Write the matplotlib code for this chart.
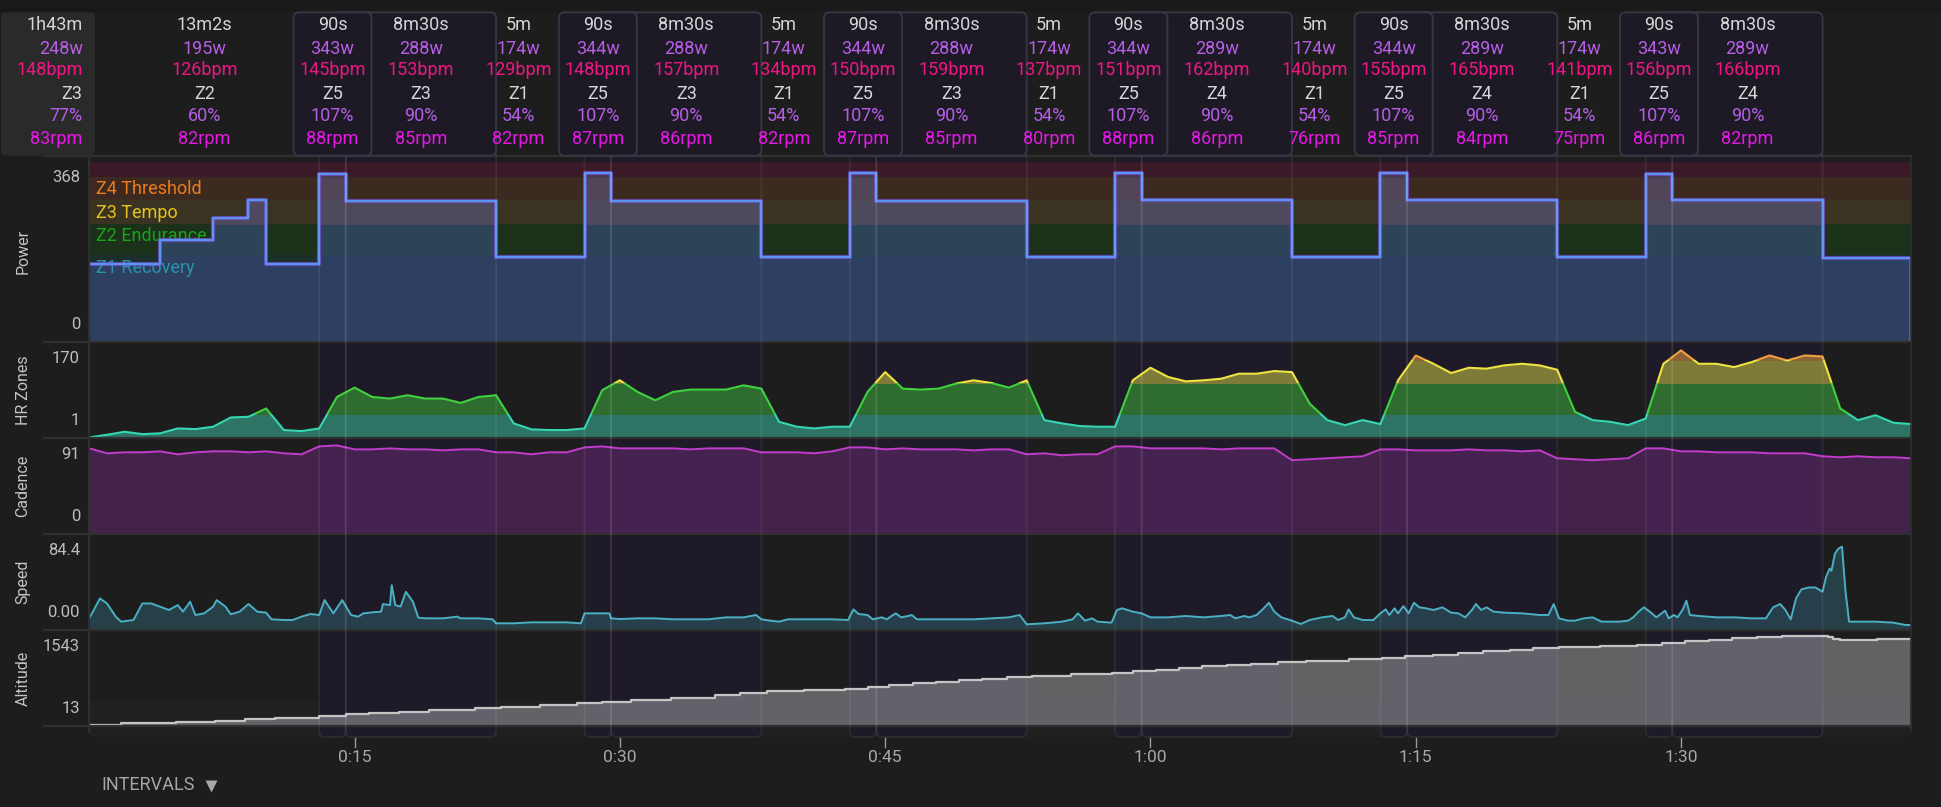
import numpy as np
import matplotlib
matplotlib.use("Agg")
import matplotlib.pyplot as plt
from matplotlib.patches import FancyBboxPatch, Rectangle

plt.rcParams['font.family'] = ['Roboto', 'DejaVu Sans']

W, H = 1941, 807

# ================= data =================
summary = ["1h43m", "248w", "148bpm", "Z3", "77%", "83rpm"]

iv_start = [0, 13, 14.5, 23, 28, 29.5, 38, 43, 44.5, 53, 58, 59.5, 68, 73, 74.5, 83, 88, 89.5]
iv_end = [13, 14.5, 23, 28, 29.5, 38, 43, 44.5, 53, 58, 59.5, 68, 73, 74.5, 83, 88, 89.5, 98]
iv_dur = ["13m2s", "90s", "8m30s", "5m", "90s", "8m30s", "5m", "90s", "8m30s", "5m",
          "90s", "8m30s", "5m", "90s", "8m30s", "5m", "90s", "8m30s"]
iv_watts = [195, 343, 288, 174, 344, 288, 174, 344, 288, 174, 344, 289, 174, 344, 289, 174, 343, 289]
iv_bpm = [126, 145, 153, 129, 148, 157, 134, 150, 159, 137, 151, 162, 140, 155, 165, 141, 156, 166]
iv_zone = ["Z2", "Z5", "Z3", "Z1", "Z5", "Z3", "Z1", "Z5", "Z3", "Z1",
           "Z5", "Z4", "Z1", "Z5", "Z4", "Z1", "Z5", "Z4"]
iv_pct = [60, 107, 90, 54, 107, 90, 54, 107, 90, 54, 107, 90, 54, 107, 90, 54, 107, 90]
iv_rpm = [82, 88, 85, 82, 87, 86, 82, 87, 85, 80, 88, 86, 76, 85, 84, 75, 86, 82]

# power (w), step values starting at each time (minutes)
power_t = [0, 4, 7, 9, 10, 13, 14.5, 23, 28, 29.5, 38, 43, 44.5, 53, 58, 59.5, 68, 73, 74.5,
           83, 88, 89.5, 98, 103]
power_w = [159, 208, 253, 290, 159, 343, 288, 174, 344, 288, 174, 344, 288, 174, 344, 289, 174,
           344, 289, 174, 343, 289, 172, 0]
power_zone_edges = [0, 176.6, 240.8, 289, 337, 368]
power_zone_names = ["Z1 Recovery", "Z2 Endurance", "Z3 Tempo", "Z4 Threshold"]

# heart rate, one sample per minute
hr_t = list(range(104))
hr_bpm = [100.2, 102.2, 104.5, 102.7, 103.3, 107.0, 106.5, 108.3, 115.3, 115.8,
          122.1, 105.8, 105.0, 107.0, 130.8, 137.9, 130.8, 129.6, 132.1, 129.6,
          129.6, 126.3, 130.8, 132.1, 110.8, 106.3, 105.8, 105.8, 107.0, 135.9,
          143.4, 134.6, 128.3, 134.6, 136.4, 136.4, 136.4, 139.6, 137.1, 112.0,
          108.3, 107.0, 108.3, 108.3, 134.6, 149.6, 137.1, 136.4, 137.1, 140.9,
          143.4, 141.4, 137.9, 143.4, 113.3, 110.8, 108.8, 108.3, 108.3, 143.4,
          152.9, 145.9, 142.6, 143.4, 144.6, 148.4, 148.4, 150.4, 149.6, 125.8,
          113.3, 109.5, 113.3, 110.3, 143.4, 162.2, 155.9, 148.9, 152.9, 152.2,
          154.7, 155.9, 154.7, 151.4, 119.6, 113.3, 112.0, 109.5, 114.5, 155.9,
          166.0, 155.9, 155.9, 153.4, 157.2, 162.2, 158.4, 162.2, 161.4, 122.1,
          113.3, 117.0, 111.3, 110.3]
hr_zone_edges = [100, 117.8, 141.4, 158.4, 172]

# cadence (rpm), one sample per minute
cad_t = list(range(104))
cad_rpm = [86, 81, 82, 82, 83, 80, 82, 83, 83, 82, 83, 81, 80,
           88, 89,
           85, 85, 86, 85, 85, 84, 85, 85,
           82, 82, 80, 82, 82,
           87, 88,
           86, 86, 86, 86, 85, 86, 86, 86,
           82, 82, 82, 81, 83,
           87, 87,
           85, 86, 85, 85, 85, 84, 85, 85,
           80, 81, 79, 80, 80,
           88, 88,
           86, 86, 86, 86, 85, 86, 86, 86,
           74, 75, 76, 77, 78,
           85, 85,
           84, 84, 84, 85, 84, 84, 83, 84,
           76, 75, 74, 75, 76,
           86, 86,
           83, 83, 82, 82, 82, 81, 81, 81,
           78, 77, 78, 77, 77, 76]

# speed (km/h)
speed_t = [0, 0.6, 1.0, 1.5, 1.8, 2.5, 3.0, 3.5, 4.0, 4.5, 5.0, 5.3, 5.7, 6.0, 6.5, 7.0, 7.2,
           7.7, 8.0, 8.5, 9.0, 9.5, 10.0, 10.3, 11.0, 11.5, 12.0, 12.5, 13.0, 13.3, 13.8, 14.3,
           14.8, 15.2, 15.5, 16.0, 16.5, 16.6, 17.0, 17.1, 17.3, 17.6, 17.9, 18.3, 18.6, 19.0,
           20.0, 20.8, 21.0, 22.0, 22.8, 23.0, 24.0, 25.0, 26.0, 27.0, 27.8, 28.0, 29.4, 29.5,
           30.0, 31.0, 32.0, 33.0, 34.0, 35.0, 36.0, 37.0, 37.7, 38.0, 38.5, 39.0, 39.5, 40.0,
           41.0, 42.0, 42.9, 43.2, 43.5, 44.0, 44.3, 44.8, 45.1, 45.3, 45.6, 45.9, 46.3, 46.5,
           46.8, 48.0, 49.0, 50.0, 51.0, 52.0, 52.6, 53.0, 54.0, 55.0, 55.6, 55.9, 56.3, 56.7,
           57.0, 57.8, 58.1, 58.4, 59.0, 59.5, 60.0, 61.0, 62.0, 63.0, 64.0, 64.5, 64.8, 65.3,
           65.6, 66.0, 66.4, 66.7, 67.0, 67.4, 68.0, 68.5, 69.0, 69.7, 70.3, 70.6, 71.0, 71.2,
           71.5, 72.0, 72.6, 73.0, 73.3, 73.5, 73.8, 74.0, 74.3, 74.6, 74.9, 75.2, 75.6, 76.0,
           76.5, 77.0, 77.4, 77.8, 78.2, 78.4, 78.7, 79.0, 79.4, 80.0, 81.0, 82.0, 82.5, 82.8,
           83.1, 83.6, 84.0, 84.5, 85.0, 85.5, 86.0, 86.5, 87.0, 87.3, 87.6, 87.9, 88.3, 88.6,
           88.9, 89.1, 89.3, 89.6, 89.8, 90.1, 90.3, 90.5, 91.0, 92.0, 93.0, 94.0, 94.8, 95.2,
           95.6, 95.9, 96.2, 96.5, 96.8, 97.2, 97.6, 98.0, 98.2, 98.4, 98.5, 98.7, 98.9, 99.1,
           99.3, 99.5, 100.0, 101.0, 102.0, 102.7, 103.0]
speed_kmh = [11.2, 31.5, 26.4, 12.9, 7.8, 9.5, 26.4, 26.4, 23.1, 19.7, 24.7, 18.0, 28.1, 14.6,
             16.3, 23.1, 29.8, 23.1, 15.3, 18.0, 25.8, 18.0, 17.0, 10.2, 9.5, 9.5, 12.9, 15.6,
             14.6, 29.8, 16.3, 29.8, 14.6, 12.9, 16.3, 17.3, 18.0, 25.8, 24.7, 45.1, 24.7, 23.1,
             38.3, 28.1, 11.9, 11.2, 11.2, 12.9, 11.2, 11.2, 10.2, 6.1, 6.1, 7.1, 7.1, 7.1, 6.1,
             16.3, 16.3, 11.2, 10.5, 11.2, 11.2, 10.2, 10.2, 10.2, 12.2, 12.2, 14.6, 10.2, 8.8,
             7.8, 10.2, 10.2, 10.2, 10.2, 9.5, 20.3, 15.6, 14.6, 10.2, 12.2, 10.2, 12.9, 16.3,
             12.2, 13.6, 14.6, 10.2, 10.2, 10.2, 10.2, 11.2, 12.2, 14.6, 5.1, 6.1, 7.8, 10.2,
             16.3, 8.8, 11.2, 7.8, 6.8, 19.7, 21.4, 18.0, 16.3, 12.2, 12.2, 13.6, 12.2, 13.6,
             14.6, 11.2, 13.6, 12.2, 14.6, 21.4, 27.1, 18.0, 12.2, 8.8, 5.4, 9.5, 12.2, 13.6,
             9.5, 12.2, 20.3, 12.2, 9.5, 9.5, 16.3, 20.3, 14.6, 21.4, 16.3, 23.7, 16.3, 27.1,
             22.4, 21.4, 19.7, 22.4, 17.0, 16.3, 12.2, 20.3, 25.8, 19.7, 22.4, 18.0, 17.0, 16.3,
             14.6, 14.6, 25.8, 11.2, 8.8, 8.8, 11.2, 12.2, 7.8, 7.8, 7.8, 8.8, 12.2, 18.0, 22.4,
             17.0, 12.2, 16.3, 19.0, 11.2, 14.6, 12.2, 20.3, 29.2, 14.6, 13.6, 12.2, 12.2, 11.2,
             11.2, 22.4, 25.8, 19.7, 10.2, 31.5, 40.7, 42.7, 42.7, 38.3, 53.6, 62.0, 59.7, 77.3,
             82.4, 84.4, 38.3, 7.8, 7.8, 7.8, 6.8, 4.4, 4.4]

# altitude (m), step values starting at each time
alt_t = [0, 1.8, 4.9, 7.1, 8.8, 10.5, 13.0, 14.5, 15.8, 17.5, 19.2, 21.8, 23.3, 25.5, 27.6,
         29.0, 30.6, 32.9, 35.4, 36.8, 38.3, 40.4, 42.7, 44.0, 45.2, 46.6, 47.9, 49.2, 50.5,
         51.9, 53.3, 55.5, 57.8, 59.0, 60.3, 61.6, 62.9, 64.3, 65.7, 67.2, 68.8, 71.2, 73.1,
         74.4, 76.0, 77.4, 78.8, 80.3, 81.6, 83.1, 85.4, 87.5, 88.9, 90.2, 91.6, 92.9, 94.3,
         95.7, 98.3, 98.6, 99.0, 101.1, 103.0]
alt_m = [13, 41, 64, 86, 115, 138, 167, 196, 218, 241, 270, 299, 327, 356, 385, 413, 442, 485,
         528, 562, 592, 614, 636, 671, 700, 729, 757, 786, 808, 838, 860, 884, 912, 936, 958,
         992, 1022, 1044, 1066, 1090, 1113, 1142, 1170, 1192, 1221, 1250, 1280, 1302, 1331,
         1348, 1371, 1393, 1422, 1452, 1479, 1503, 1526, 1543, 1520, 1495, 1474, 1497, 1497]

x_ticks = [15, 30, 45, 60, 75, 90]
x_tick_labels = ["0:15", "0:30", "0:45", "1:00", "1:15", "1:30"]

# ================= layout (pixels) =================
BG = '#1d1d1d'
LEFT, RIGHT = 89.3, 1911
panel_px = {
    'power': (161.7, 341.7),
    'hr': (342.5, 437.7),
    'cad': (438.5, 533.3),
    'spd': (534.3, 629.3),
    'alt': (630.3, 725.7),
}

fig = plt.figure(figsize=(W / 100, H / 100), dpi=100, facecolor=BG)


def overlay(z):
    a = fig.add_axes([0, 0, 1, 1], zorder=z)
    a.set_xlim(0, W)
    a.set_ylim(H, 0)
    a.axis('off')
    a.patch.set_alpha(0)
    return a


def panel(key):
    t, b = panel_px[key]
    a = fig.add_axes([LEFT / W, 1 - b / H, (RIGHT - LEFT) / W, (b - t) / H], zorder=1)
    a.set_xlim(0, 103)
    a.axis('off')
    a.patch.set_alpha(0)
    return a


def zone_clip(ax, lo, hi):
    return Rectangle((-1, lo), 105, hi - lo, transform=ax.transData)


bg = overlay(0)
ax_pw = panel('power')
ax_hr = panel('hr')
ax_cd = panel('cad')
ax_sp = panel('spd')
ax_al = panel('alt')
top = overlay(3)


def xpx(t):
    return ax_pw.transData.transform((t, 0))[0]


# background pieces
bg.add_patch(Rectangle((0, 0), W, 12, color='#191919', lw=0))
bg.add_patch(FancyBboxPatch((LEFT, 700), RIGHT - LEFT, 37, boxstyle='round,pad=0,rounding_size=6',
                            fc='#202020', ec='none'))

highlight = [i for i, d in enumerate(iv_dur) if d in ("90s", "8m30s")]
for i in highlight:
    x0, x1 = xpx(iv_start[i]), xpx(iv_end[i])
    bg.add_patch(FancyBboxPatch((x0, 150), x1 - x0, 587, boxstyle='round,pad=0,rounding_size=6',
                                fc='#1f1a28', ec='none'))
    top.add_patch(FancyBboxPatch((x0, 150), x1 - x0, 587, boxstyle='round,pad=0,rounding_size=6',
                                 fc='none', ec=(1, 1, 1, 0.065), lw=1.3, zorder=1))

# ================= power =================
ax_pw.set_ylim(0, 368)
zone_bg = ['#1c2f2b', '#1b3119', '#3a3322', '#3c2a20', '#3a1a28']
zone_fill = ['#2e4062', '#2d4358', '#4e4a5e', '#504658', '#4c3a52']
zone_txt = ['#2a93aa', '#19a319', '#e6c21f', '#f07b1c']
for k in range(5):
    lo, hi = power_zone_edges[k], power_zone_edges[k + 1]
    ax_pw.axhspan(lo, hi, color=zone_bg[k], lw=0, zorder=0)
    coll = ax_pw.fill_between(power_t, 0, power_w, step='post', color=zone_fill[k], lw=0,
                              zorder=1)
    coll.set_clip_path(zone_clip(ax_pw, lo, hi))
for k, name in enumerate(power_zone_names):
    ax_pw.annotate(name, xy=(0, power_zone_edges[k + 1]), xytext=(4.5, -8.8),
                   textcoords='offset points', ha='left', va='center', fontsize=13,
                   color=zone_txt[k], zorder=2)
ax_pw.step(power_t, power_w, where='post', color='#7a55e2', lw=3.0, alpha=0.7, zorder=3)
ax_pw.step(power_t, power_w, where='post', color='#5c93ee', lw=1.5, zorder=4)

# ================= heart rate =================
ax_hr.set_ylim(100, 172)
hr_fill = ['#2e7464', '#2e6c30', '#7e7a38', '#8a6234']
hr_line = ['#35d6b4', '#3fd13f', '#f0e442', '#f0a040']
for k in range(4):
    lo, hi = hr_zone_edges[k], hr_zone_edges[k + 1]
    coll = ax_hr.fill_between(hr_t, 100, hr_bpm, color=hr_fill[k], lw=0, zorder=1)
    coll.set_clip_path(zone_clip(ax_hr, lo, hi))
    ln, = ax_hr.plot(hr_t, hr_bpm, color=hr_line[k], lw=1.5, zorder=2)
    ln.set_clip_path(zone_clip(ax_hr, lo, hi))

# ================= cadence =================
ax_cd.set_ylim(0, 96)
ax_cd.fill_between(cad_t, 0, cad_rpm, color='#6c2a78', alpha=0.5, lw=0)
ax_cd.plot(cad_t, cad_rpm, color='#c23ccc', lw=1.4)

# ================= speed =================
ax_sp.set_ylim(0, 97)
ax_sp.fill_between(speed_t, 0, speed_kmh, color='#2f5e6a', alpha=0.55, lw=0)
ax_sp.plot(speed_t, speed_kmh, color='#4bb0c4', lw=1.4)

# ================= altitude =================
ax_al.set_ylim(0, 1641)
ax_al.fill_between(alt_t, 0, alt_m, step='post', color='#8e8d93', alpha=0.62, lw=0)
ax_al.step(alt_t, alt_m, where='post', color='#c4c4c4', lw=1.6)

# ================= frame, labels =================
for y in [155.7, 341.7, 437.9, 533.8, 629.8, 725.7]:
    top.plot([44, RIGHT], [y, y], color='#2f2f2f', lw=1.6, zorder=0.5)
top.plot([LEFT, LEFT], [155.7, 731.7], color='#2f2f2f', lw=1.6, zorder=0.5)
top.plot([RIGHT, RIGHT], [155.7, 731.7], color='#2f2f2f', lw=1.2, zorder=0.5)

panel_info = [('power', 'Power', '368', '0'), ('hr', 'HR Zones', '170', '1'),
              ('cad', 'Cadence', '91', '0'), ('spd', 'Speed', '84.4', '0.00'),
              ('alt', 'Altitude', '1543', '13')]
for key, name, hi_lab, lo_lab in panel_info:
    t, b = panel_px[key]
    top.text(23, (t + b) / 2, name, rotation=90, ha='center', va='center', fontsize=11.5,
             color='#c4c4c4')
    top.text(80, t + 16, hi_lab, ha='right', va='center', fontsize=12, color='#bdbdbd')
    top.text(80, b - 17, lo_lab, ha='right', va='center', fontsize=12, color='#bdbdbd')

for t, lab in zip(x_ticks, x_tick_labels):
    x = xpx(t)
    top.plot([x, x], [738, 747], color='#9a9a9a', lw=1)
    top.text(x, 757, lab, ha='center', va='center', fontsize=12.5, color='#a8a8a8')

top.text(101, 785, "INTERVALS", ha='left', va='center', fontsize=13, color='#a6a6a6')
top.plot([211], [786], marker='v', markersize=8, color='#a6a6a6', mec='none')

# ================= header =================
row_y = [26.7, 50, 71.5, 95.5, 117.3, 140]
row_c = ['#d6d6d6', '#b65ee6', '#ee1685', '#d6d6d6', '#b65ee6', '#e619e6']

top.add_patch(FancyBboxPatch((1, 12.3), 94, 143.4, boxstyle='round,pad=0,rounding_size=6',
                             fc='#2a2a2a', ec='none', zorder=5))
for i in highlight:
    if iv_dur[i] == "8m30s":
        x0 = xpx((iv_start[i - 1] + iv_end[i - 1]) / 2)
        x1 = xpx(iv_end[i])
        top.add_patch(FancyBboxPatch((x0, 12.3), x1 - x0, 143.4,
                                     boxstyle='round,pad=0,rounding_size=6',
                                     fc='#1e1a25', ec='#383644', lw=1.4, zorder=5))
for i in highlight:
    if iv_dur[i] == "90s":
        xc = xpx((iv_start[i] + iv_end[i]) / 2)
        top.add_patch(FancyBboxPatch((xc - 39, 12.3), 78, 143.4,
                                     boxstyle='round,pad=0,rounding_size=6',
                                     fc='#1e1a25', ec='#383644', lw=1.4, zorder=6))

for y, c, s in zip(row_y, row_c, summary):
    top.text(82.5, y - 1.5, s, ha='right', va='center', fontsize=13, color=c, zorder=8)

for i in range(len(iv_dur)):
    if iv_dur[i] == "5m":
        xc = xpx(iv_start[i] + 1.27)
    else:
        xc = xpx((iv_start[i] + iv_end[i]) / 2)
    vals = [iv_dur[i], f"{iv_watts[i]}w", f"{iv_bpm[i]}bpm", iv_zone[i], f"{iv_pct[i]}%",
            f"{iv_rpm[i]}rpm"]
    for y, c, s in zip(row_y, row_c, vals):
        top.text(xc, y - 1.5, s, ha='center', va='center', fontsize=13, color=c, zorder=8)

fig.savefig("out.png", dpi=100, facecolor=BG)
